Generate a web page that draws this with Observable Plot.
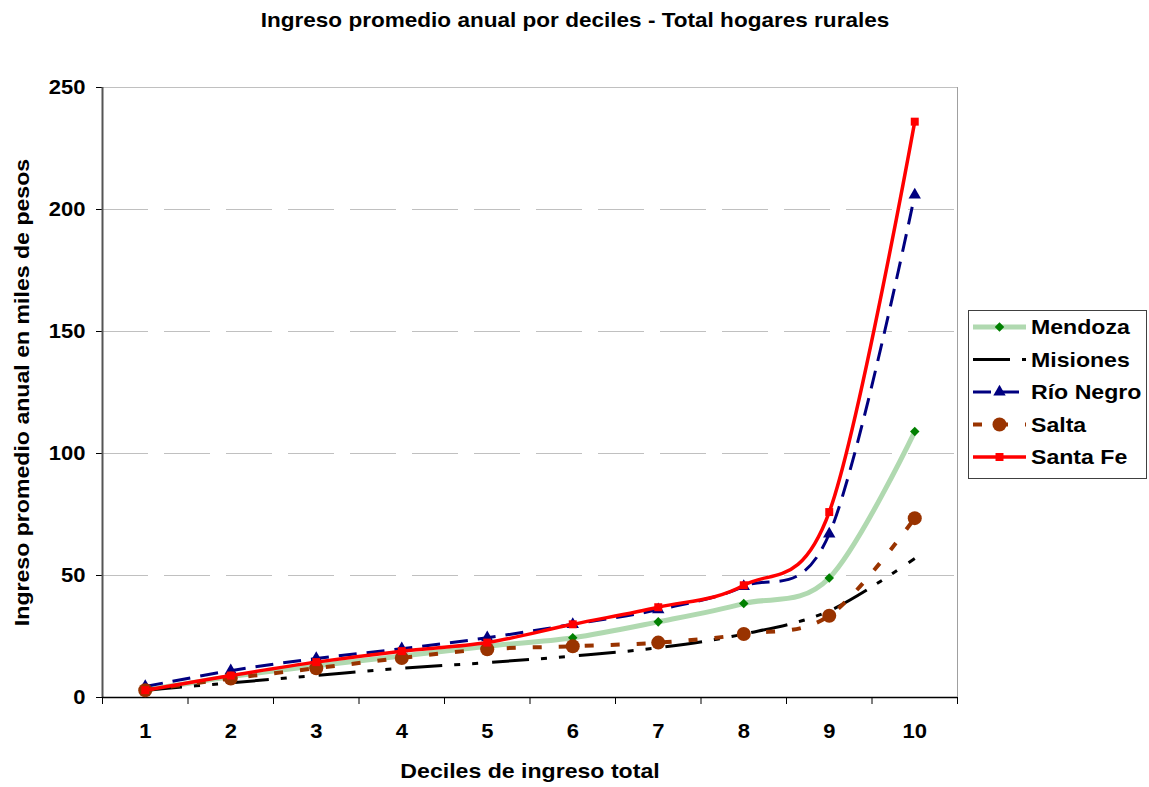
<!DOCTYPE html>
<html>
<head>
<meta charset="utf-8">
<script src="https://cdn.jsdelivr.net/npm/d3@7"></script>
<script src="https://cdn.jsdelivr.net/npm/@observablehq/plot@0.6"></script>
<style>
  html, body { margin: 0; padding: 0; background: #fff; }
  #chart svg { display: block; }
</style>
</head>
<body>
<div id="chart"></div>
<script>
// ---- data ----
const deciles = [1, 2, 3, 4, 5, 6, 7, 8, 9, 10];
const mendoza  = [3, 8.5, 13, 17, 21, 24.5, 31, 38.5, 49, 109];
const misiones = [3, 6, 9, 12, 14.3, 17, 20.4, 26, 35.5, 57];
const rioNegro = [4.5, 11, 16, 20, 24.5, 30, 36, 45.5, 67, 206];
const salta    = [3, 7.8, 12, 16.2, 19.8, 21, 22.5, 26, 33.5, 73.5];
const santaFe  = [3, 9, 14.5, 19, 22.5, 30, 37, 46, 76, 236];
const yTicks = [0, 50, 100, 150, 200, 250];
const xBounds = [0.5, 1.5, 2.5, 3.5, 4.5, 5.5, 6.5, 7.5, 8.5, 9.5, 10.5];

const titleText = "Ingreso promedio anual por deciles - Total hogares rurales";
const xTitle = "Deciles de ingreso total";
const yTitle = "Ingreso promedio anual en miles de pesos";

const seriesDefs = [
  {name: "Mendoza",   values: mendoza,  stroke: "#b0d9b0", width: 5,   dash: null,                symbol: "diamond2", fill: "#008000", r: 4.3},
  {name: "Misiones",  values: misiones, stroke: "#000000", width: 3,   dash: "37,12,6,12,6,14",   symbol: null},
  {name: "Río Negro", values: rioNegro, stroke: "#000080", width: 3,   dash: "18,10",             symbol: "triangle", fill: "#000080", r: 4.6},
  {name: "Salta",     values: salta,    stroke: "#993300", width: 4,   dash: "9,17",              symbol: "circle",   fill: "#993300", r: 7},
  {name: "Santa Fe",  values: santaFe,  stroke: "#ff0000", width: 3.5, dash: null,                symbol: "square",   fill: "#ff0000", r: 4.5}
];

const rows = seriesDefs.map(s => deciles.map((d, i) => ({decil: d, value: s.values[i], serie: s.name})));

const FONT = "'Liberation Sans', Arial, sans-serif";
const FS = 21;

const marks = [];
// grid lines
marks.push(Plot.ruleY(yTicks.filter(t => t > 0 && t < 250), {y: d => d, stroke: "#c0c0c0", strokeWidth: 1, strokeDasharray: "46,16"}));
marks.push(Plot.ruleY([250], {y: d => d, stroke: "#c0c0c0", strokeWidth: 1}));
marks.push(Plot.ruleX([10.5], {x: d => d, stroke: "#a0a0a0", strokeWidth: 1}));
// axes
marks.push(Plot.ruleY(yTicks, {y: d => d, x1: 0.5, x2: 0.5, insetLeft: -6, stroke: "#000"}));
marks.push(Plot.ruleX(xBounds, {x: d => d, y1: 0, y2: 0, insetBottom: -7, stroke: "#000"}));
marks.push(Plot.ruleX([0.5], {x: d => d, stroke: "#555", strokeWidth: 2}));
marks.push(Plot.ruleY([0], {y: d => d, stroke: "#000", strokeWidth: 1.5}));
// tick labels
marks.push(Plot.text(yTicks, {y: d => d, text: d => String(d), frameAnchor: "left", textAnchor: "end", lineAnchor: "middle", dx: -17, fontSize: 20, fontWeight: "bold", fill: "#000"}));
marks.push(Plot.text(deciles, {x: d => d, text: d => String(d), frameAnchor: "bottom", lineAnchor: "middle", dy: 34, fontSize: 20, fontWeight: "bold", fill: "#000"}));
// titles
marks.push(Plot.text([titleText], {text: d => d, frameAnchor: "top", lineAnchor: "middle", textAnchor: "middle", dx: 45, dy: -67, fontSize: 20.5, fontWeight: "bold", fill: "#000"}));
marks.push(Plot.text([xTitle], {text: d => d, frameAnchor: "bottom", lineAnchor: "middle", textAnchor: "middle", dy: 74, fontSize: FS, fontWeight: "bold", fill: "#000"}));
marks.push(Plot.text([yTitle], {text: d => d, frameAnchor: "left", lineAnchor: "middle", textAnchor: "middle", dx: -80, rotate: -90, fontSize: FS, fontWeight: "bold", fill: "#000"}));
// series lines and markers
seriesDefs.forEach((s, k) => {
  marks.push(Plot.line(rows[k], {x: "decil", y: "value", stroke: s.stroke, strokeWidth: s.width, strokeDasharray: s.dash || undefined, curve: "cardinal", strokeLinecap: "butt"}));
  if (s.symbol) {
    marks.push(Plot.dot(rows[k], {x: "decil", y: "value", symbol: s.symbol, r: s.r, fill: s.fill, stroke: "none"}));
  }
});

const chart = Plot.plot({
  width: 1149,
  height: 787,
  marginLeft: 102,
  marginRight: 192,
  marginTop: 87,
  marginBottom: 90,
  x: {type: "linear", domain: [0.5, 10.5], axis: null},
  y: {type: "linear", domain: [0, 250], axis: null},
  style: {fontFamily: FONT, background: "#fff", overflow: "visible"},
  marks
});

document.getElementById("chart").appendChild(chart);

// legend
const svg = d3.select(chart);
const lg = svg.append("g").attr("font-family", FONT).attr("text-anchor", "start");
lg.append("rect").attr("x", 968.5).attr("y", 310.5).attr("width", 178).attr("height", 168)
  .attr("fill", "#fff").attr("stroke", "#404040").attr("stroke-width", 1);
const symMap = {diamond2: d3.symbolDiamond2, triangle: d3.symbolTriangle, circle: d3.symbolCircle, square: d3.symbolSquare};
seriesDefs.forEach((s, i) => {
  const y = 327 + i * 32.5;
  lg.append("line").attr("x1", 973).attr("x2", 1026).attr("y1", y).attr("y2", y)
    .attr("stroke", s.stroke).attr("stroke-width", s.width)
    .attr("stroke-dasharray", s.dash || null);
  if (s.symbol) {
    const area = Math.PI * s.r * s.r;
    lg.append("path").attr("d", d3.symbol(symMap[s.symbol], area)())
      .attr("transform", `translate(999.5,${y})`).attr("fill", s.fill);
  }
  lg.append("text").attr("x", 1031).attr("y", y).attr("dy", "0.35em").attr("font-size", FS).attr("font-weight", "bold")
    .attr("fill", "#000").text(s.name);
});

// widen glyphs slightly, like the reference's rendering
svg.selectAll("text").each(function() {
  const len = this.getComputedTextLength();
  if (len > 0) {
    this.setAttribute("textLength", (len * 1.1).toFixed(1));
    this.setAttribute("lengthAdjust", "spacingAndGlyphs");
  }
});
</script>
</body>
</html>
